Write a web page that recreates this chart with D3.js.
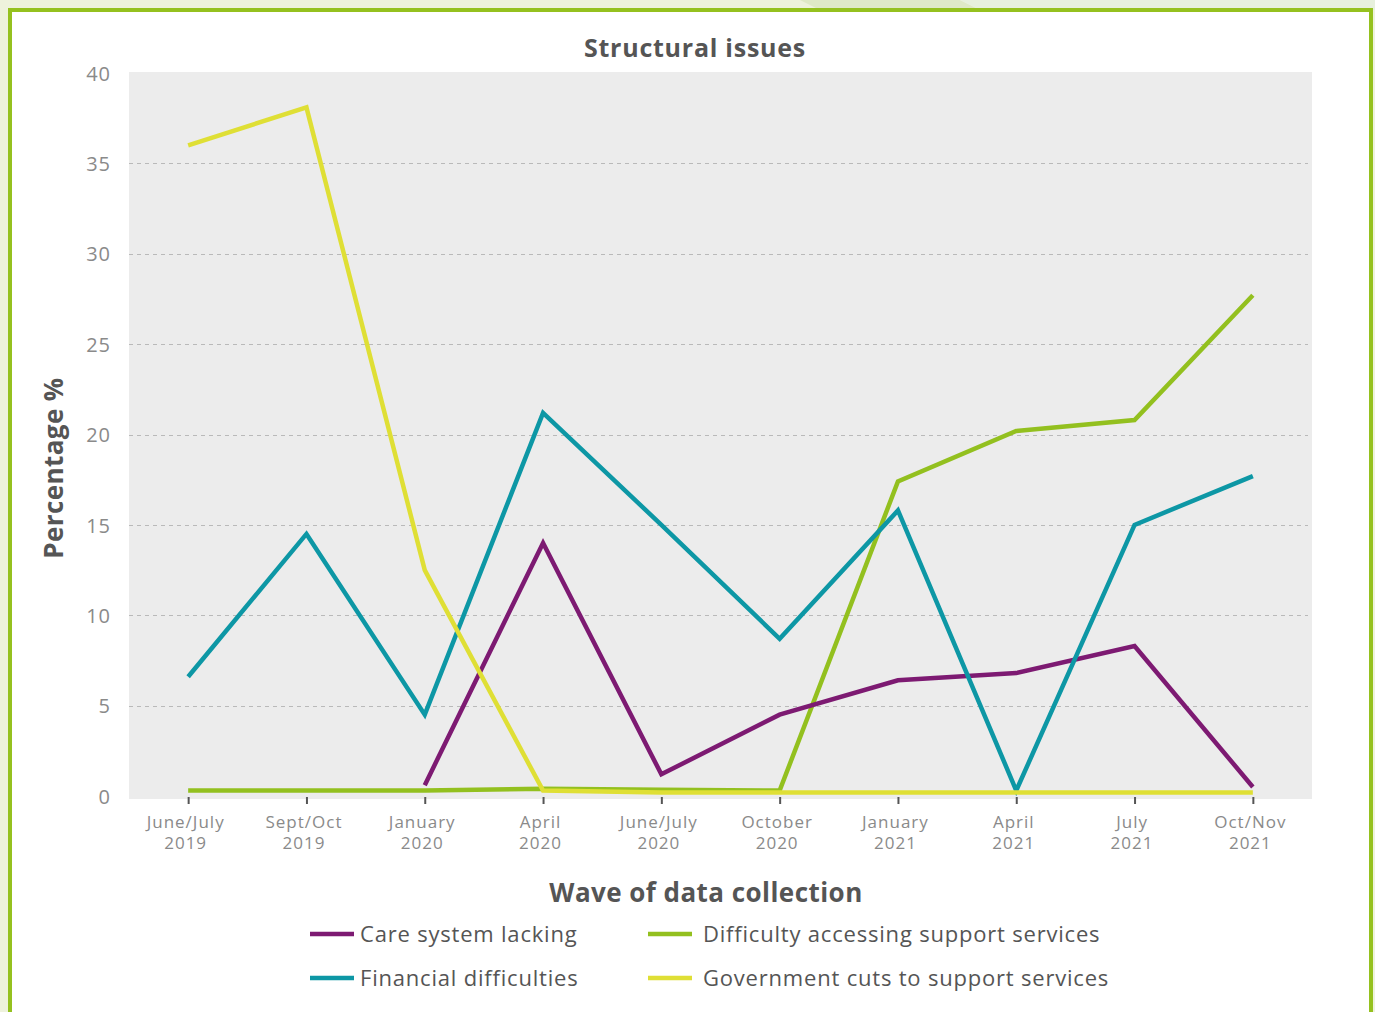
<!DOCTYPE html>
<html>
<head>
<meta charset="utf-8">
<script src="https://cdn.jsdelivr.net/npm/d3@7"></script>
<style>
  html, body { margin: 0; padding: 0; background: #eef2dc; }
  svg { display: block; font-family: "Open Sans", Lato, sans-serif; }
</style>
</head>
<body>
<svg id="chart" width="1375" height="1012"></svg>
<script>
// waves along the x axis, two lines each
const waves = [
    ["June/July", "2019"], ["Sept/Oct", "2019"], ["January", "2020"], ["April", "2020"],
    ["June/July", "2020"], ["October", "2020"], ["January", "2021"], ["April", "2021"],
    ["July", "2021"], ["Oct/Nov", "2021"]
];
const yTicks = [0, 5, 10, 15, 20, 25, 30, 35, 40];

// values (null = not shown)
const careSystem = [null, null, 0.6, 14.0, 1.2, 4.5, 6.4, 6.8, 8.3, 0.5];
const financial = [6.6, 14.5, 4.5, 21.2, 15.0, 8.7, 15.8, 0.3, 15.0, 17.7];
const difficultyAccess = [0.3, 0.3, 0.3, 0.4, 0.35, 0.3, 17.4, 20.2, 20.8, 27.7];
const govCuts = [36.0, 38.1, 12.5, 0.3, 0.2, 0.2, 0.2, 0.2, 0.2, 0.2];

const series = [
    {name: "Difficulty accessing support services", values: difficultyAccess, color: "#93c01f"},
    {name: "Care system lacking", values: careSystem, color: "#7d1a72"},
    {name: "Financial difficulties", values: financial, color: "#0d97a5"},
    {name: "Government cuts to support services", values: govCuts, color: "#dfdf35"}
];

const legendRows = [
    [{name: "Care system lacking", color: "#7d1a72"}, {name: "Difficulty accessing support services", color: "#93c01f"}],
    [{name: "Financial difficulties", color: "#0d97a5"}, {name: "Government cuts to support services", color: "#dfdf35"}]
];

const svg = d3.select("#chart");

// page backdrop outside the frame
svg.append("path")
    .attr("d", "M800,0L960,0L980,10L820,10Z")
    .attr("fill", "#dfe9c6");
svg.append("path")
    .attr("d", "M960,0L1375,0L1375,10L980,10Z")
    .attr("fill", "#e7f0dd");

// green frame
svg.append("rect")
    .attr("x", 10).attr("y", 10)
    .attr("width", 1361).attr("height", 1030)
    .attr("fill", "#fff")
    .attr("stroke", "#95c11f")
    .attr("stroke-width", 4);

const plot = {left: 129, right: 1312, top: 72, bottom: 799};

const x = d3.scalePoint()
    .domain(d3.range(waves.length))
    .range([plot.left, plot.right])
    .padding(0.5);

const y = d3.scaleLinear()
    .domain([0, 40])
    .range([796, 73]);

svg.append("rect")
    .attr("x", plot.left).attr("y", plot.top)
    .attr("width", plot.right - plot.left).attr("height", plot.bottom - plot.top)
    .attr("fill", "#ececec");

// gridlines
svg.append("g")
    .selectAll("line")
    .data(yTicks.filter(t => t > 0 && t < 40))
    .join("line")
    .attr("x1", plot.left).attr("x2", plot.right - 4)
    .attr("y1", d => Math.round(y(d)) + 0.5).attr("y2", d => Math.round(y(d)) + 0.5)
    .attr("stroke", "#b9b9b9")
    .attr("stroke-width", 1)
    .attr("stroke-dasharray", "4,4");

// y axis labels
const yAxis = svg.append("g")
    .attr("transform", "translate(111,0)")
    .call(d3.axisLeft(y).tickValues(yTicks).tickSize(0).tickPadding(0));
yAxis.select(".domain").remove();
yAxis.selectAll("text")
    .attr("fill", "#8a8a8a")
    .attr("font-family", "'Open Sans', sans-serif")
    .attr("font-size", 20)
    .attr("letter-spacing", 1)
    .attr("dy", "0.36em");

// x axis ticks + two-line labels
const xAxis = svg.append("g")
    .attr("transform", `translate(0,${plot.bottom - 2})`)
    .call(d3.axisBottom(x).tickSize(7).tickFormat(""));
xAxis.select(".domain").remove();
xAxis.selectAll(".tick line")
    .attr("stroke", "#555")
    .attr("stroke-width", 2);
xAxis.selectAll(".tick")
    .append("text")
    .attr("fill", "#8a8a8a")
    .attr("font-family", "'Open Sans', sans-serif")
    .attr("font-size", 17)
    .attr("letter-spacing", 1)
    .attr("text-anchor", "middle")
    .each(function (i) {
        const t = d3.select(this);
        t.append("tspan").attr("x", -3).attr("y", 31).text(waves[i][0]);
        t.append("tspan").attr("x", -3).attr("y", 52).text(waves[i][1]);
    });

// lines
const line = d3.line()
    .defined(d => d != null)
    .x((d, i) => x(i))
    .y(d => y(d));

svg.append("g")
    .selectAll("path")
    .data(series)
    .join("path")
    .attr("d", d => line(d.values))
    .attr("fill", "none")
    .attr("stroke", d => d.color)
    .attr("stroke-width", 4.5);

// titles
svg.append("text")
    .attr("x", 695).attr("y", 57)
    .attr("text-anchor", "middle")
    .attr("font-size", 25).attr("font-weight", "bold")
    .attr("letter-spacing", 0.75)
    .attr("fill", "#555")
    .text("Structural issues");

svg.append("text")
    .attr("x", 706).attr("y", 902)
    .attr("text-anchor", "middle")
    .attr("font-size", 26).attr("font-weight", "bold")
    .attr("letter-spacing", 0.45)
    .attr("fill", "#555")
    .text("Wave of data collection");

svg.append("text")
    .attr("transform", "translate(63,468) rotate(-90)")
    .attr("text-anchor", "middle")
    .attr("font-size", 26).attr("font-weight", "bold")
    .attr("letter-spacing", 0.4)
    .attr("fill", "#555")
    .text("Percentage %");

// legend
const legendX = [310, 648];
const legendY = [934, 978];
legendRows.forEach((row, r) => {
    row.forEach((item, c) => {
        const g = svg.append("g")
            .attr("transform", `translate(${legendX[c]},${legendY[r]})`);
        g.append("line")
            .attr("x1", 0).attr("x2", 44)
            .attr("y1", 0).attr("y2", 0)
            .attr("stroke", item.color)
            .attr("stroke-width", 4.5);
        g.append("text")
            .attr("x", c === 0 ? 50 : 55)
            .attr("y", 0)
            .attr("dy", "0.35em")
            .attr("font-size", 22)
            .attr("letter-spacing", 0.8)
            .attr("fill", "#555")
            .text(item.name);
    });
});
</script>
</body>
</html>
